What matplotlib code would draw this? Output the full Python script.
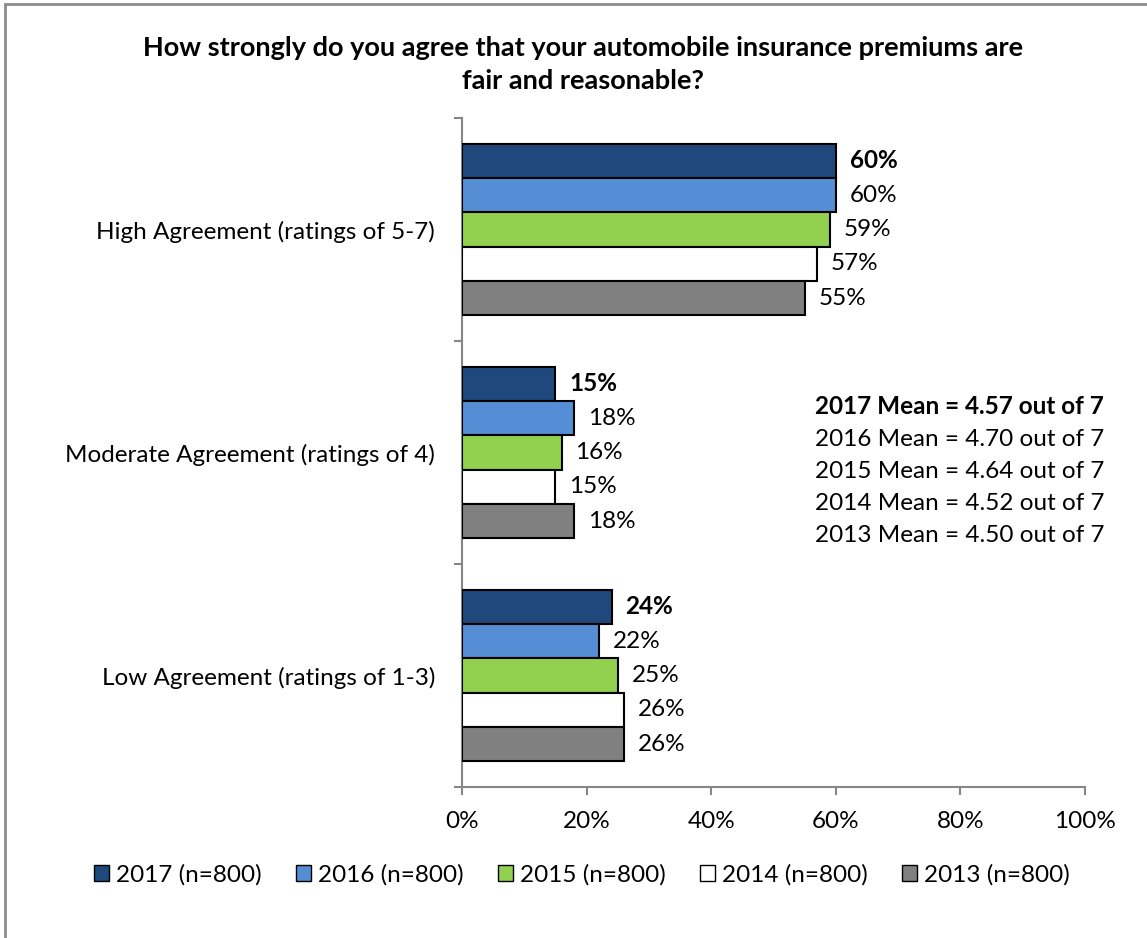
import matplotlib
matplotlib.use("Agg")
import matplotlib.pyplot as plt
from matplotlib.patches import Patch, Rectangle
import numpy as np

plt.rcParams['font.family'] = ['Lato', 'DejaVu Sans']

categories = ["High Agreement (ratings of 5-7)",
              "Moderate Agreement (ratings of 4)",
              "Low Agreement (ratings of 1-3)"]
years = ["2017 (n=800)", "2016 (n=800)", "2015 (n=800)", "2014 (n=800)", "2013 (n=800)"]
values = {
    "2017 (n=800)": [60, 15, 24],
    "2016 (n=800)": [60, 18, 22],
    "2015 (n=800)": [59, 16, 25],
    "2014 (n=800)": [57, 15, 26],
    "2013 (n=800)": [55, 18, 26],
}
colors = ["#1F497D", "#558ED5", "#92D050", "#FFFFFF", "#808080"]
means = ["2017 Mean = 4.57 out of 7",
         "2016 Mean = 4.70 out of 7",
         "2015 Mean = 4.64 out of 7",
         "2014 Mean = 4.52 out of 7",
         "2013 Mean = 4.50 out of 7"]
title = "How strongly do you agree that your automobile insurance premiums are\nfair and reasonable?"

FS = 17.5

fig = plt.figure(figsize=(11.47, 9.38), dpi=100)
ax = fig.add_axes([462 / 1147, 1 - 787 / 938, 623 / 1147, 669 / 938])

bar_h = 0.154
n = len(years)
for i, yr in enumerate(years):
    # category 0 at the top, first series at the top of each group
    ys = np.arange(len(categories)) + (i - (n - 1) / 2) * bar_h
    ax.barh(ys, values[yr], height=bar_h, color=colors[i],
            edgecolor="black", linewidth=1.5, zorder=3)
    for y, v in zip(ys, values[yr]):
        ax.text(v + 2.2, y, f"{v}%", va="center", ha="left", fontsize=FS,
                fontweight="bold" if i == 0 else "normal")

ax.set_ylim(len(categories) - 0.5, -0.5)
ax.set_xlim(0, 100)
ax.set_xticks(np.arange(0, 101, 20))
ax.set_xticklabels([f"{t}%" for t in range(0, 101, 20)], fontsize=FS)
ax.set_yticks(np.arange(len(categories)))
ax.set_yticklabels(categories, fontsize=FS)
ax.tick_params(axis="y", length=0, pad=19.5)
ax.set_yticks(np.arange(len(categories) + 1) - 0.5, minor=True)
ax.tick_params(axis="y", which="minor", length=6, color="#868686", width=1.5)
ax.tick_params(axis="x", length=6, color="#868686", width=1.5, pad=11)
for s in ["top", "right"]:
    ax.spines[s].set_visible(False)
for s in ["left", "bottom"]:
    ax.spines[s].set_color("#868686")
    ax.spines[s].set_linewidth(1.5)

fig.text(583 / 1147, 1 - 64.5 / 938, title, ha="center", va="center",
         fontsize=19.5, fontweight="bold", linespacing=1.45)

for k, m in enumerate(means):
    fig.text(815 / 1147, 1 - (407 + 32 * k) / 938, m, ha="left", va="center",
             fontsize=FS, fontweight="bold" if k == 0 else "normal")

handles = [Patch(facecolor=c, edgecolor="black", linewidth=1) for c in colors]
fig.legend(handles, years, loc="center", bbox_to_anchor=(582 / 1147, 1 - 875 / 938),
           ncol=5, frameon=False, fontsize=FS, handlelength=0.62, handleheight=0.62,
           handletextpad=0.3, columnspacing=1.4)

fig.patches.append(Rectangle((5 / 1147, -0.1), 1.2, 1 - 4 / 938 + 0.1,
                             transform=fig.transFigure, fill=False,
                             edgecolor="#8c8c8c", linewidth=2))

fig.savefig("out.png", dpi=100)
